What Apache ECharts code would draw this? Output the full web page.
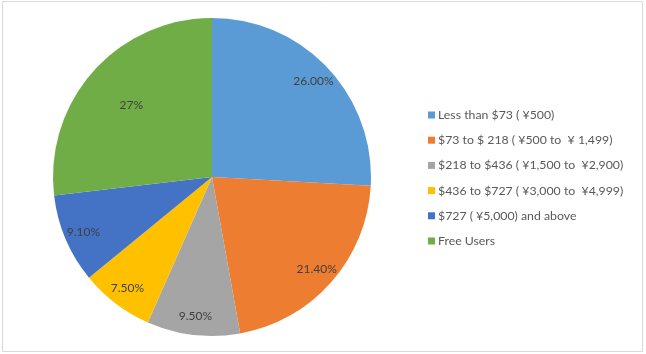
<!DOCTYPE html>
<html><head><meta charset="utf-8">
<script src="https://cdn.jsdelivr.net/npm/echarts@6/dist/echarts.min.js"></script>
<style>html,body{margin:0;padding:0;background:#fff}#c{width:646px;height:354px}</style>
</head><body><div id="c"></div>
<script>
const categories = ['Less than $73 ( ¥500)', '$73 to $ 218 ( ¥500 to  ¥ 1,499)', '$218 to $436 ( ¥1,500 to  ¥2,900)', '$436 to $727 ( ¥3,000 to  ¥4,999)', '$727 ( ¥5,000) and above', 'Free Users'];
const values = [26.0, 21.4, 9.5, 7.5, 9.1, 27];
const labels = ['26.00%', '21.40%', '9.50%', '7.50%', '9.10%', '27%'];
const colors = ['#5B9BD5', '#ED7D31', '#A5A5A5', '#FFC000', '#4472C4', '#70AD47'];

const chart = echarts.init(document.getElementById('c'));
const R = 159;
const center = [212, 177];
const font = 'Lato, "Open Sans", sans-serif';
const baseData = categories.map((c, i) => ({name: c, value: values[i], itemStyle: {color: colors[i]}}));
function labelSeries(radiusFrac, showIdx) {
  return {
    type: 'pie', center: center, radius: [0, R * radiusFrac * 2], startAngle: 90, clockwise: true,
    silent: true, legendHoverLink: false, animation: false,
    itemStyle: {color: 'rgba(0,0,0,0)', borderWidth: 0},
    emphasis: {disabled: true},
    labelLine: {show: false},
    data: categories.map((c, i) => ({
      name: c, value: values[i],
      itemStyle: {color: 'rgba(0,0,0,0)'},
      label: {show: showIdx.includes(i), position: 'inside', formatter: labels[i], color: '#404040', fontSize: 12, fontFamily: font}
    }))
  };
}
chart.setOption({
  animation: false,
  graphic: [{type: 'rect', shape: {x: 2.5, y: 1.5, width: 640, height: 350}, style: {fill: 'none', stroke: '#d9d9d9', lineWidth: 1}, silent: true}],
  legend: {
    orient: 'vertical', left: 423, top: 104, itemWidth: 7, itemHeight: 7, itemGap: 13.2, icon: 'rect',
    data: categories,
    textStyle: {color: '#595959', fontSize: 12.3, fontFamily: font, padding: [0, 0, 0, -2]}
  },
  series: [
    {
      type: 'pie', center: center, radius: [0, R], startAngle: 90, clockwise: true,
      label: {show: false}, labelLine: {show: false}, silent: true,
      itemStyle: {borderWidth: 0},
      data: baseData
    },
    labelSeries(0.86, [0, 1, 2, 3, 4]),
    labelSeries(0.66, [5])
  ]
});
</script></body></html>
